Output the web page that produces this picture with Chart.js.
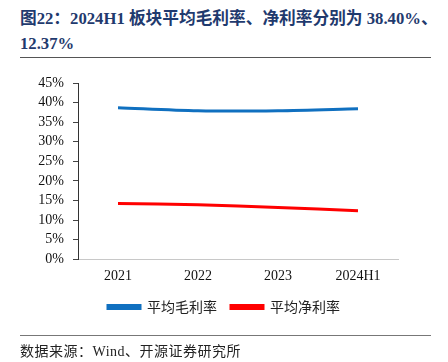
<!DOCTYPE html>
<html><head><meta charset="utf-8">
<script src="https://cdn.jsdelivr.net/npm/chart.js@4"></script>
<style>
body{margin:0;width:448px;height:362px;background:#fff;position:relative;overflow:hidden;font-family:"Liberation Serif","Noto Sans CJK SC",serif;}
#title{position:absolute;left:20px;top:6px;width:430px;font-weight:bold;font-size:16.7px;line-height:25px;color:#1F3A6E;white-space:nowrap;}
#hr1{position:absolute;left:20px;top:57px;width:411px;height:1px;background:#555;}
#hr2{position:absolute;left:20px;top:335px;width:411px;height:1px;background:#777;}
#src{position:absolute;left:20px;top:340px;font-size:14px;color:#222;letter-spacing:0.5px;}
#wrap{position:absolute;left:0;top:60px;width:448px;height:280px;}
</style></head><body>
<div id="title">图22：2024H1 板块平均毛利率、净利率分别为 38.40%、<br>12.37%</div>
<div id="hr1"></div>
<div id="wrap"><canvas id="c"></canvas></div>
<div id="hr2"></div>
<div id="src">数据来源：Wind、开源证券研究所</div>
<script>
const categories=["2021","2022","2023","2024H1"];
const grossMargin=[38.7,37.9,37.9,38.4];
const netMargin=[14.2,13.9,13.2,12.37];
const yTicks=[0,5,10,15,20,25,30,35,40,45];
const font={family:'"Liberation Serif","Noto Sans CJK SC",serif',size:14};
new Chart(document.getElementById('c'),{
 type:'line',
 data:{labels:categories,datasets:[
  {label:'平均毛利率',data:grossMargin,borderColor:'#1070C0',backgroundColor:'#1070C0',borderWidth:3,pointRadius:0,tension:0.3},
  {label:'平均净利率',data:netMargin,borderColor:'#FF0000',backgroundColor:'#FF0000',borderWidth:3,pointRadius:0,tension:0.3}
 ]},
 options:{responsive:true,maintainAspectRatio:false,animation:false,
  layout:{padding:{left:0,right:0,top:23,bottom:16}},
  plugins:{legend:{position:'bottom',labels:{boxWidth:32,boxHeight:3,padding:14,color:'#222',font:{family:'"Noto Sans CJK SC",sans-serif',size:14}}},tooltip:{enabled:false}},
  scales:{
   x:{offset:true,grid:{display:false},border:{display:true,color:'#c8c8c8',width:1},ticks:{color:'#111',font:font,padding:1}},
   y:{min:0,max:45,afterFit:(s)=>{s.width=78;},afterBuildTicks:(s)=>{s.ticks=yTicks.map(v=>({value:v}));},
      grid:{drawOnChartArea:false,drawTicks:true,tickLength:5,color:'#444'},border:{display:true,color:'#333',width:1},
      ticks:{color:'#111',font:font,padding:9,autoSkip:false,callback:v=>v+'%'}},
   y2:{position:'right',display:true,afterFit:(s)=>{s.width=50;},grid:{display:false},border:{display:false},ticks:{display:false}}
  }
 }
});
</script>
</body></html>
